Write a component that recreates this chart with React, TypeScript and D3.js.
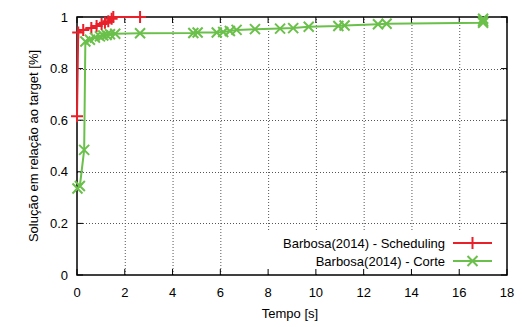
import React, { useRef, useEffect } from "react";
import * as d3 from "d3";

// Barbosa(2014) - Scheduling
const schedT = [0, 0.05, 0.26, 0.6, 0.82, 1.03, 1.17, 1.31, 1.45, 1.52, 2.64];
const schedV = [0.615, 0.94, 0.95, 0.957, 0.965, 0.973, 0.978, 0.984, 0.993, 1.0, 1.0];

// Barbosa(2014) - Corte
const corteT = [0.02, 0.12, 0.3, 0.35, 0.54, 0.75, 0.96, 1.1, 1.24, 1.38, 1.6, 2.64, 4.87, 5.05, 5.85, 6.12, 6.4, 6.68, 7.45, 8.5, 9.05, 9.7, 10.94, 11.2, 12.6, 12.96, 17.0, 17.0, 17.0];
const corteV = [0.335, 0.345, 0.485, 0.905, 0.912, 0.92, 0.925, 0.928, 0.93, 0.933, 0.935, 0.937, 0.938, 0.94, 0.94, 0.942, 0.946, 0.95, 0.953, 0.955, 0.957, 0.962, 0.965, 0.967, 0.972, 0.974, 0.978, 0.985, 0.993];

const xTicks = [0, 2, 4, 6, 8, 10, 12, 14, 16, 18];
const yTicks = [0, 0.2, 0.4, 0.6, 0.8, 1];

const seriesNames = ["Barbosa(2014) - Scheduling", "Barbosa(2014) - Corte"];
const RED = "#e8202a";
const GREEN = "#6ac04a";

const W = 522;
const H = 327;
const margin = { left: 77, right: 15, top: 17, bottom: 52 };

function App() {
  const svgRef = useRef<SVGSVGElement>(null);

  useEffect(() => {
    const svg = d3.select(svgRef.current);
    svg.selectAll("*").remove();

    const x = d3.scaleLinear().domain([0, 18]).range([margin.left, W - margin.right]);
    const y = d3.scaleLinear().domain([0, 1]).range([H - margin.bottom, margin.top]);
    const font = "'Liberation Sans', Arial, sans-serif";

    // grid
    const grid = svg.append("g").attr("stroke", "#555").attr("stroke-width", 1).attr("stroke-dasharray", "1,2");
    xTicks.slice(1, -1).forEach(t => {
      grid.append("line").attr("x1", x(t) + 0.5).attr("x2", x(t) + 0.5).attr("y1", y(0)).attr("y2", y(1));
    });
    yTicks.slice(1, -1).forEach(t => {
      grid.append("line").attr("x1", x(0)).attr("x2", x(18)).attr("y1", Math.round(y(t)) + 0.5).attr("y2", Math.round(y(t)) + 0.5);
    });

    // legend background hides grid
    svg.append("rect").attr("x", 265).attr("y", 232).attr("width", 240).attr("height", 42).attr("fill", "white");

    // frame
    svg.append("rect")
      .attr("x", x(0)).attr("y", y(1))
      .attr("width", x(18) - x(0)).attr("height", y(0) - y(1))
      .attr("fill", "none").attr("stroke", "black").attr("stroke-width", 1.5);

    // ticks (inward, mirrored)
    const tk = svg.append("g").attr("stroke", "black").attr("stroke-width", 1);
    xTicks.forEach(t => {
      tk.append("line").attr("x1", x(t)).attr("x2", x(t)).attr("y1", y(0)).attr("y2", y(0) - 6);
      tk.append("line").attr("x1", x(t)).attr("x2", x(t)).attr("y1", y(1)).attr("y2", y(1) + 6);
    });
    yTicks.forEach(t => {
      tk.append("line").attr("x1", x(0)).attr("x2", x(0) + 6).attr("y1", y(t)).attr("y2", y(t));
      tk.append("line").attr("x1", x(18)).attr("x2", x(18) - 6).attr("y1", y(t)).attr("y2", y(t));
    });

    // tick labels
    svg.append("g").selectAll("text").data(xTicks).join("text")
      .attr("x", d => x(d)).attr("y", y(0) + 22)
      .attr("text-anchor", "middle").attr("font-family", font).attr("font-size", 13)
      .text(d => String(d));
    svg.append("g").selectAll("text").data(yTicks).join("text")
      .attr("x", x(0) - 9).attr("y", d => y(d) + 4.5)
      .attr("text-anchor", "end").attr("font-family", font).attr("font-size", 13)
      .text(d => String(d));

    // axis titles
    svg.append("text").attr("x", 290).attr("y", 318)
      .attr("text-anchor", "middle").attr("font-family", font).attr("font-size", 13)
      .text("Tempo [s]");
    svg.append("text")
      .attr("transform", `translate(38,${(y(0) + y(1)) / 2}) rotate(-90)`)
      .attr("text-anchor", "middle").attr("font-family", font).attr("font-size", 13)
      .text("Solução em relação ao target [%]");

    const line = d3.line<[number, number]>().x(d => x(d[0])).y(d => y(d[1]));
    const sched: [number, number][] = schedT.map((t, i) => [t, schedV[i]]);
    const corte: [number, number][] = corteT.map((t, i) => [t, corteV[i]]);

    const plus = (g: any, cx: number, cy: number, color: string) => {
      g.append("path").attr("d", `M${cx - 6},${cy}H${cx + 6}M${cx},${cy - 6}V${cy + 6}`)
        .attr("stroke", color).attr("stroke-width", 2).attr("fill", "none");
    };
    const cross = (g: any, cx: number, cy: number, color: string) => {
      g.append("path").attr("d", `M${cx - 5},${cy - 5}L${cx + 5},${cy + 5}M${cx - 5},${cy + 5}L${cx + 5},${cy - 5}`)
        .attr("stroke", color).attr("stroke-width", 2).attr("fill", "none");
    };

    const gS = svg.append("g");
    gS.append("path").attr("d", line(sched)).attr("fill", "none").attr("stroke", RED).attr("stroke-width", 2);
    sched.forEach(d => plus(gS, x(d[0]), y(d[1]), RED));

    const gC = svg.append("g");
    gC.append("path").attr("d", line(corte)).attr("fill", "none").attr("stroke", GREEN).attr("stroke-width", 2);
    corte.forEach(d => cross(gC, x(d[0]), y(d[1]), GREEN));

    // legend
    const colors = [RED, GREEN];
    seriesNames.forEach((name, i) => {
      const ly = 243 + i * 18;
      svg.append("text").attr("x", 445).attr("y", ly + 4.5)
        .attr("text-anchor", "end").attr("font-family", font).attr("font-size", 13)
        .text(name);
      svg.append("line").attr("x1", 453).attr("x2", 492).attr("y1", ly).attr("y2", ly)
        .attr("stroke", colors[i]).attr("stroke-width", 2);
      if (i === 0) plus(svg, 472.5, ly, RED);
      else cross(svg, 472.5, ly, GREEN);
    });
  }, []);

  return (
    <svg ref={svgRef} width={W} height={H} style={{ position: "absolute", left: 0, top: 0, background: "white" }} />
  );
}

export default App;
